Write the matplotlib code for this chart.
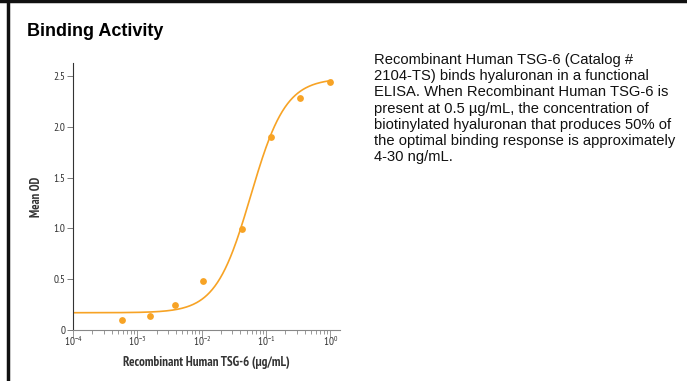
#binding activity of recombinant human TSG-6 in a functional ELISA
import numpy as np
import matplotlib.pyplot as plt
from matplotlib.lines import Line2D
from matplotlib.ticker import LogLocator, LogFormatterMathtext

#concentration (ug/mL) and mean OD
concentration = [0.00057, 0.0016, 0.0038, 0.0105, 0.043, 0.12, 0.34, 1.0]
mean_od = [0.10, 0.14, 0.25, 0.48, 0.99, 1.90, 2.29, 2.44]

#four parameter logistic fit, parameters
fit_bottom = 0.17
fit_top = 2.48
fit_ec50 = 0.058
fit_hill = 1.6

title_text = "Binding Activity"
description = ("Recombinant Human TSG-6 (Catalog #\n"
               "2104-TS) binds hyaluronan in a functional\n"
               "ELISA. When Recombinant Human TSG-6 is\n"
               "present at 0.5 \u00b5g/mL, the concentration of\n"
               "biotinylated hyaluronan that produces 50% of\n"
               "the optimal binding response is approximately\n"
               "4-30 ng/mL.")

orange = "#F7A325"
cond = ["PT Sans Narrow", "DejaVu Sans"]
arial = ["Liberation Sans", "DejaVu Sans"]

plt.rcParams["mathtext.default"] = "regular"
plt.rcParams["font.family"] = cond

fig = plt.figure(figsize=(6.87, 3.81), dpi=100)
ax = fig.add_axes([0.1063, 0.1339, 0.3886, 0.7007])

#fitted curve
xs = np.logspace(-4, 0.02, 300)
ys = fit_bottom + (fit_top - fit_bottom) / (1 + (fit_ec50 / xs) ** fit_hill)
ax.plot(xs, ys, color=orange, lw=1.2, zorder=2)
ax.scatter(concentration, mean_od, s=24, color=orange, zorder=3, linewidths=0)

ax.set_xscale("log")
ax.set_xlim(1e-4, 10 ** 0.15)
ax.set_ylim(0, 2.63)
ax.set_yticks([0, 0.5, 1.0, 1.5, 2.0, 2.5])
ax.set_yticklabels(["0", "0.5", "1.0", "1.5", "2.0", "2.5"])
ax.xaxis.set_major_locator(LogLocator(base=10, numticks=10))
ax.xaxis.set_minor_locator(LogLocator(base=10, subs=np.arange(2, 10), numticks=10))
ax.xaxis.set_major_formatter(LogFormatterMathtext())

for side in ["top", "right"]:
    ax.spines[side].set_visible(False)
ax.spines["left"].set_color("#333333")
ax.spines["left"].set_linewidth(0.8)
ax.spines["bottom"].set_color("#888888")
ax.spines["bottom"].set_linewidth(0.8)

ax.tick_params(axis="y", length=4, width=0.6, color="#666666", pad=1.5)
ax.tick_params(axis="x", which="major", length=5, width=0.6, color="#888888", pad=-2)
ax.tick_params(axis="x", which="minor", length=3, width=0.6, color="#888888")
for lab in ax.get_xticklabels() + ax.get_yticklabels():
    lab.set_fontsize(8)
    lab.set_color("#333333")

ax.set_xlabel("Recombinant Human TSG-6 (\u00b5g/mL)", fontsize=9.4,
              fontweight="bold", color="#333333", labelpad=6)
ax.set_ylabel("Mean OD", fontsize=9, fontweight="bold",
              color="#333333", labelpad=7.5)

fig.text(27 / 687, 1 - 31 / 381, title_text, fontsize=13, fontweight="bold",
         family=arial, va="center", ha="left")
fig.text(374 / 687, 1 - 53 / 381, description, fontsize=10.6, va="top", ha="left",
         family=arial, linespacing=1.2, color="#111111")

#frame lines at the top and left edge
fig.add_artist(Line2D([0, 1], [1 - 1 / 381, 1 - 1 / 381], transform=fig.transFigure,
                      color="#111111", lw=2.5))
fig.add_artist(Line2D([8 / 687, 8 / 687], [0, 1], transform=fig.transFigure,
                      color="#111111", lw=2.5))

fig.savefig("out.png", dpi=100)
